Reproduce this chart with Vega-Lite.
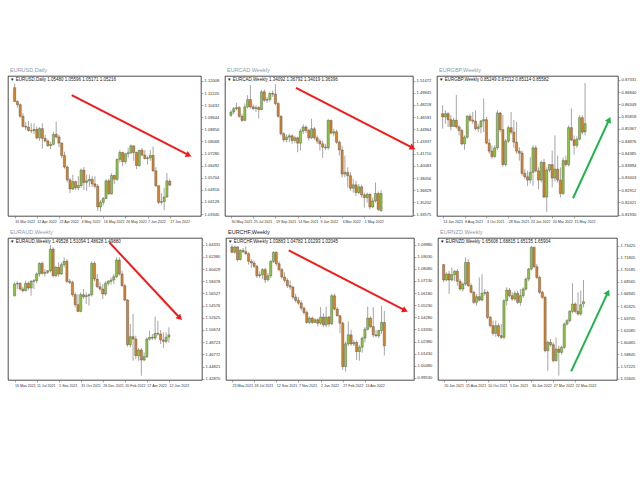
{
"$schema": "https://vega.github.io/schema/vega-lite/v6.json",
"background": "white",
"padding": {"left": 7, "top": 67, "right": 0, "bottom": 0},
"config": {
 "view": {"stroke": "#000000", "strokeWidth": 0.7},
 "axis": {"labelFont": "Liberation Sans", "labelFontSize": 4.1, "labelColor": "#333333", "tickColor": "#555555", "tickWidth": 0.5, "tickSize": 2, "domain": false, "grid": false, "labelPadding": 1, "labelOverlap": false},
 "axisX": {"labelAlign": "left", "labelBound": false, "labelFlush": false, "labelFontSize": 3.6},
 "title": {"anchor": "start", "frame": "group", "font": "Liberation Sans", "fontSize": 5.5, "fontWeight": "normal", "color": "#8c9aab", "subtitleFont": "Liberation Sans", "subtitleFontSize": 4.5, "subtitleColor": "#222222", "subtitlePadding": 4, "offset": -5.5, "dx": 2}
},
"datasets": {
 "arrows": [
  {"p": "EURUSD", "x1": 20.6, "y1": 1.1109, "x2": 62.9, "y2": 1.0717},
  {"p": "EURCAD", "x1": 23.4, "y1": 1.5051, "x2": 65.4, "y2": 1.4249},
  {"p": "EURGBP", "x1": 47.6, "y1": 0.8259, "x2": 60.8, "y2": 0.8574},
  {"p": "EURAUD", "x1": 34.4, "y1": 1.6470, "x2": 60.0, "y2": 1.5258},
  {"p": "EURCHF", "x1": 20.5, "y1": 1.0953, "x2": 62.5, "y2": 1.0482},
  {"p": "EURNZD", "x1": 46.5, "y1": 1.5659, "x2": 59.9, "y2": 1.6716}
 ],
 "eurusd": [
{"i":0,"o":1.1157,"h":1.1185,"l":1.1066,"c":1.1067},{"i":1,"o":1.1067,"h":1.1076,"l":1.1027,"c":1.1046},{"i":2,"o":1.1046,"h":1.1054,"l":1.0960,"c":1.0971},{"i":3,"o":1.0971,"h":1.0990,"l":1.0897,"c":1.0905},{"i":4,"o":1.0905,"h":1.0935,"l":1.0880,"c":1.0900},{"i":5,"o":1.0900,"h":1.0940,"l":1.0870,"c":1.0878},{"i":6,"o":1.0878,"h":1.0925,"l":1.0860,"c":1.0876},{"i":7,"o":1.0876,"h":1.0925,"l":1.0855,"c":1.0885},{"i":8,"o":1.0885,"h":1.0905,"l":1.0820,"c":1.0830},{"i":9,"o":1.0830,"h":1.0900,"l":1.0810,"c":1.0890},{"i":10,"o":1.0890,"h":1.0925,"l":1.0760,"c":1.0827},{"i":11,"o":1.0827,"h":1.0850,"l":1.0800,"c":1.0810},{"i":12,"o":1.0810,"h":1.0820,"l":1.0770,"c":1.0780},{"i":13,"o":1.0780,"h":1.0805,"l":1.0757,"c":1.0788},{"i":14,"o":1.0788,"h":1.0870,"l":1.0780,"c":1.0853},{"i":15,"o":1.0853,"h":1.0936,"l":1.0825,"c":1.0836},{"i":16,"o":1.0836,"h":1.0850,"l":1.0770,"c":1.0796},{"i":17,"o":1.0796,"h":1.0800,"l":1.0697,"c":1.0715},{"i":18,"o":1.0715,"h":1.0740,"l":1.0630,"c":1.0640},{"i":19,"o":1.0640,"h":1.0650,"l":1.0540,"c":1.0556},{"i":20,"o":1.0556,"h":1.0570,"l":1.0470,"c":1.0497},{"i":21,"o":1.0497,"h":1.0590,"l":1.0490,"c":1.0545},{"i":22,"o":1.0545,"h":1.0550,"l":1.0490,"c":1.0505},{"i":23,"o":1.0505,"h":1.0580,"l":1.0490,"c":1.0520},{"i":24,"o":1.0520,"h":1.0630,"l":1.0505,"c":1.0620},{"i":25,"o":1.0620,"h":1.0640,"l":1.0490,"c":1.0540},{"i":26,"o":1.0540,"h":1.0590,"l":1.0485,"c":1.0550},{"i":27,"o":1.0550,"h":1.0590,"l":1.0510,"c":1.0560},{"i":28,"o":1.0560,"h":1.0580,"l":1.0510,"c":1.0530},{"i":29,"o":1.0530,"h":1.0580,"l":1.0500,"c":1.0515},{"i":30,"o":1.0515,"h":1.0530,"l":1.0355,"c":1.0380},{"i":31,"o":1.0380,"h":1.0425,"l":1.0350,"c":1.0410},{"i":32,"o":1.0410,"h":1.0445,"l":1.0390,"c":1.0435},{"i":33,"o":1.0435,"h":1.0560,"l":1.0430,"c":1.0550},{"i":34,"o":1.0550,"h":1.0565,"l":1.0460,"c":1.0465},{"i":35,"o":1.0465,"h":1.0600,"l":1.0460,"c":1.0585},{"i":36,"o":1.0585,"h":1.0590,"l":1.0530,"c":1.0560},{"i":37,"o":1.0560,"h":1.0695,"l":1.0550,"c":1.0690},{"i":38,"o":1.0690,"h":1.0750,"l":1.0670,"c":1.0735},{"i":39,"o":1.0735,"h":1.0740,"l":1.0645,"c":1.0675},{"i":40,"o":1.0675,"h":1.0730,"l":1.0660,"c":1.0727},{"i":41,"o":1.0727,"h":1.0765,"l":1.0700,"c":1.0733},{"i":42,"o":1.0733,"h":1.0787,"l":1.0725,"c":1.0778},{"i":43,"o":1.0778,"h":1.0780,"l":1.0680,"c":1.0735},{"i":44,"o":1.0735,"h":1.0740,"l":1.0627,"c":1.0650},{"i":45,"o":1.0650,"h":1.0750,"l":1.0640,"c":1.0750},{"i":46,"o":1.0750,"h":1.0764,"l":1.0710,"c":1.0718},{"i":47,"o":1.0718,"h":1.0750,"l":1.0690,"c":1.0695},{"i":48,"o":1.0695,"h":1.0710,"l":1.0655,"c":1.0700},{"i":49,"o":1.0700,"h":1.0750,"l":1.0680,"c":1.0716},{"i":50,"o":1.0716,"h":1.0774,"l":1.0610,"c":1.0615},{"i":51,"o":1.0615,"h":1.0640,"l":1.0510,"c":1.0518},{"i":52,"o":1.0518,"h":1.0520,"l":1.0398,"c":1.0410},{"i":53,"o":1.0410,"h":1.0470,"l":1.0395,"c":1.0415},{"i":54,"o":1.0415,"h":1.0505,"l":1.0359,"c":1.0445},{"i":55,"o":1.0445,"h":1.0601,"l":1.0440,"c":1.0550},{"i":56,"o":1.0548,"h":1.0560,"l":1.0517,"c":1.0522}
 ],
 "eurcad": [
{"i":0,"o":1.4684,"h":1.4751,"l":1.4661,"c":1.4728},{"i":1,"o":1.4728,"h":1.4796,"l":1.4697,"c":1.4773},{"i":2,"o":1.4773,"h":1.4849,"l":1.4751,"c":1.4787},{"i":3,"o":1.4787,"h":1.4805,"l":1.4652,"c":1.4670},{"i":4,"o":1.4670,"h":1.4706,"l":1.4594,"c":1.4616},{"i":5,"o":1.4616,"h":1.4840,"l":1.4607,"c":1.4796},{"i":6,"o":1.4796,"h":1.4952,"l":1.4773,"c":1.4894},{"i":7,"o":1.4894,"h":1.5087,"l":1.4773,"c":1.4796},{"i":8,"o":1.4796,"h":1.4831,"l":1.4751,"c":1.4773},{"i":9,"o":1.4773,"h":1.4818,"l":1.4728,"c":1.4787},{"i":10,"o":1.4787,"h":1.4805,"l":1.4639,"c":1.4760},{"i":11,"o":1.4760,"h":1.5020,"l":1.4751,"c":1.4997},{"i":12,"o":1.4997,"h":1.5029,"l":1.4863,"c":1.4885},{"i":13,"o":1.4885,"h":1.4930,"l":1.4849,"c":1.4894},{"i":14,"o":1.4894,"h":1.4997,"l":1.4863,"c":1.4975},{"i":15,"o":1.4975,"h":1.5011,"l":1.4930,"c":1.4966},{"i":16,"o":1.4966,"h":1.5100,"l":1.4818,"c":1.4840},{"i":17,"o":1.4840,"h":1.4863,"l":1.4652,"c":1.4670},{"i":18,"o":1.4670,"h":1.4684,"l":1.4415,"c":1.4437},{"i":19,"o":1.4437,"h":1.4460,"l":1.4325,"c":1.4357},{"i":20,"o":1.4357,"h":1.4428,"l":1.4325,"c":1.4392},{"i":21,"o":1.4392,"h":1.4437,"l":1.4325,"c":1.4410},{"i":22,"o":1.4410,"h":1.4428,"l":1.4303,"c":1.4348},{"i":23,"o":1.4348,"h":1.4410,"l":1.4312,"c":1.4383},{"i":24,"o":1.4383,"h":1.4401,"l":1.4191,"c":1.4312},{"i":25,"o":1.4312,"h":1.4504,"l":1.4213,"c":1.4473},{"i":26,"o":1.4473,"h":1.4563,"l":1.4437,"c":1.4527},{"i":27,"o":1.4527,"h":1.4549,"l":1.4446,"c":1.4482},{"i":28,"o":1.4482,"h":1.4504,"l":1.4348,"c":1.4383},{"i":29,"o":1.4383,"h":1.4639,"l":1.4366,"c":1.4504},{"i":30,"o":1.4504,"h":1.4527,"l":1.4357,"c":1.4383},{"i":31,"o":1.4383,"h":1.4415,"l":1.4303,"c":1.4339},{"i":32,"o":1.4339,"h":1.4370,"l":1.4213,"c":1.4303},{"i":33,"o":1.4303,"h":1.4348,"l":1.4115,"c":1.4258},{"i":34,"o":1.4258,"h":1.4303,"l":1.4222,"c":1.4249},{"i":35,"o":1.4249,"h":1.4634,"l":1.4222,"c":1.4616},{"i":36,"o":1.4616,"h":1.4625,"l":1.4428,"c":1.4446},{"i":37,"o":1.4446,"h":1.4504,"l":1.4401,"c":1.4464},{"i":38,"o":1.4464,"h":1.4491,"l":1.4303,"c":1.4325},{"i":39,"o":1.4325,"h":1.4348,"l":1.4146,"c":1.4222},{"i":40,"o":1.4222,"h":1.4280,"l":1.3855,"c":1.3899},{"i":41,"o":1.3899,"h":1.4146,"l":1.3855,"c":1.3922},{"i":42,"o":1.3922,"h":1.3989,"l":1.3720,"c":1.3877},{"i":43,"o":1.3877,"h":1.3922,"l":1.3676,"c":1.3711},{"i":44,"o":1.3711,"h":1.3832,"l":1.3653,"c":1.3756},{"i":45,"o":1.3756,"h":1.3810,"l":1.3608,"c":1.3653},{"i":46,"o":1.3653,"h":1.3765,"l":1.3631,"c":1.3729},{"i":47,"o":1.3729,"h":1.3756,"l":1.3586,"c":1.3622},{"i":48,"o":1.3622,"h":1.3653,"l":1.3452,"c":1.3586},{"i":49,"o":1.3586,"h":1.3653,"l":1.3519,"c":1.3631},{"i":50,"o":1.3631,"h":1.3640,"l":1.3429,"c":1.3461},{"i":51,"o":1.3461,"h":1.3586,"l":1.3443,"c":1.3541},{"i":52,"o":1.3541,"h":1.3788,"l":1.3519,"c":1.3640},{"i":53,"o":1.3640,"h":1.3667,"l":1.3407,"c":1.3429},{"i":54,"o":1.3409,"h":1.3679,"l":1.3402,"c":1.3640}
 ],
 "eurgbp": [
{"i":0,"o":0.8598,"h":0.8632,"l":0.8538,"c":0.8585},{"i":1,"o":0.8585,"h":0.8612,"l":0.8558,"c":0.8598},{"i":2,"o":0.8598,"h":0.8605,"l":0.8545,"c":0.8574},{"i":3,"o":0.8574,"h":0.8592,"l":0.8531,"c":0.8547},{"i":4,"o":0.8547,"h":0.8582,"l":0.8545,"c":0.8572},{"i":5,"o":0.8572,"h":0.8673,"l":0.8538,"c":0.8545},{"i":6,"o":0.8545,"h":0.8551,"l":0.8511,"c":0.8531},{"i":7,"o":0.8531,"h":0.8538,"l":0.8471,"c":0.8477},{"i":8,"o":0.8477,"h":0.8511,"l":0.8453,"c":0.8504},{"i":9,"o":0.8504,"h":0.8592,"l":0.8497,"c":0.8588},{"i":10,"o":0.8588,"h":0.8598,"l":0.8565,"c":0.8572},{"i":11,"o":0.8572,"h":0.8605,"l":0.8558,"c":0.8568},{"i":12,"o":0.8568,"h":0.8612,"l":0.8531,"c":0.8538},{"i":13,"o":0.8538,"h":0.8558,"l":0.8524,"c":0.8545},{"i":14,"o":0.8545,"h":0.8572,"l":0.8520,"c":0.8569},{"i":15,"o":0.8569,"h":0.8659,"l":0.8524,"c":0.8574},{"i":16,"o":0.8574,"h":0.8585,"l":0.8475,"c":0.8480},{"i":17,"o":0.8480,"h":0.8497,"l":0.8437,"c":0.8448},{"i":18,"o":0.8448,"h":0.8471,"l":0.8417,"c":0.8426},{"i":19,"o":0.8426,"h":0.8471,"l":0.8421,"c":0.8461},{"i":20,"o":0.8461,"h":0.8612,"l":0.8453,"c":0.8601},{"i":21,"o":0.8601,"h":0.8605,"l":0.8524,"c":0.8534},{"i":22,"o":0.8534,"h":0.8592,"l":0.8386,"c":0.8394},{"i":23,"o":0.8394,"h":0.8497,"l":0.8386,"c":0.8488},{"i":24,"o":0.8488,"h":0.8551,"l":0.8480,"c":0.8542},{"i":25,"o":0.8542,"h":0.8605,"l":0.8515,"c":0.8524},{"i":26,"o":0.8524,"h":0.8572,"l":0.8461,"c":0.8484},{"i":27,"o":0.8484,"h":0.8565,"l":0.8437,"c":0.8448},{"i":28,"o":0.8448,"h":0.8464,"l":0.8410,"c":0.8440},{"i":29,"o":0.8440,"h":0.8450,"l":0.8349,"c":0.8359},{"i":30,"o":0.8359,"h":0.8376,"l":0.8336,"c":0.8345},{"i":31,"o":0.8345,"h":0.8369,"l":0.8309,"c":0.8332},{"i":32,"o":0.8332,"h":0.8423,"l":0.8318,"c":0.8363},{"i":33,"o":0.8363,"h":0.8471,"l":0.8309,"c":0.8461},{"i":34,"o":0.8461,"h":0.8471,"l":0.8363,"c":0.8369},{"i":35,"o":0.8369,"h":0.8383,"l":0.8295,"c":0.8332},{"i":36,"o":0.8332,"h":0.8410,"l":0.8322,"c":0.8403},{"i":37,"o":0.8403,"h":0.8417,"l":0.8259,"c":0.8264},{"i":38,"o":0.8264,"h":0.8383,"l":0.8205,"c":0.8372},{"i":39,"o":0.8372,"h":0.8396,"l":0.8363,"c":0.8394},{"i":40,"o":0.8394,"h":0.8450,"l":0.8302,"c":0.8340},{"i":41,"o":0.8340,"h":0.8511,"l":0.8326,"c":0.8376},{"i":42,"o":0.8376,"h":0.8430,"l":0.8322,"c":0.8332},{"i":43,"o":0.8332,"h":0.8383,"l":0.8262,"c":0.8278},{"i":44,"o":0.8278,"h":0.8423,"l":0.8272,"c":0.8410},{"i":45,"o":0.8410,"h":0.8430,"l":0.8386,"c":0.8394},{"i":46,"o":0.8394,"h":0.8551,"l":0.8386,"c":0.8542},{"i":47,"o":0.8542,"h":0.8619,"l":0.8488,"c":0.8493},{"i":48,"o":0.8493,"h":0.8511,"l":0.8434,"c":0.8471},{"i":49,"o":0.8471,"h":0.8507,"l":0.8461,"c":0.8496},{"i":50,"o":0.8496,"h":0.8592,"l":0.8491,"c":0.8582},{"i":51,"o":0.8582,"h":0.8592,"l":0.8515,"c":0.8524},{"i":52,"o":0.8525,"h":0.8721,"l":0.8511,"c":0.8558}
 ],
 "euraud": [
{"i":0,"o":1.5616,"h":1.5830,"l":1.5600,"c":1.5803},{"i":1,"o":1.5803,"h":1.5846,"l":1.5723,"c":1.5814},{"i":2,"o":1.5814,"h":1.5830,"l":1.5696,"c":1.5723},{"i":3,"o":1.5723,"h":1.5760,"l":1.5670,"c":1.5696},{"i":4,"o":1.5696,"h":1.5856,"l":1.5686,"c":1.5814},{"i":5,"o":1.5814,"h":1.5846,"l":1.5707,"c":1.5739},{"i":6,"o":1.5739,"h":1.5867,"l":1.5616,"c":1.5846},{"i":7,"o":1.5846,"h":1.5883,"l":1.5723,"c":1.5856},{"i":8,"o":1.5856,"h":1.5990,"l":1.5814,"c":1.5963},{"i":9,"o":1.5963,"h":1.6150,"l":1.5920,"c":1.6134},{"i":10,"o":1.6134,"h":1.6166,"l":1.5952,"c":1.5974},{"i":11,"o":1.5974,"h":1.6043,"l":1.5920,"c":1.5990},{"i":12,"o":1.5990,"h":1.6027,"l":1.5963,"c":1.6016},{"i":13,"o":1.6016,"h":1.6433,"l":1.5990,"c":1.6363},{"i":14,"o":1.6363,"h":1.6390,"l":1.5910,"c":1.5936},{"i":15,"o":1.5936,"h":1.6097,"l":1.5910,"c":1.6070},{"i":16,"o":1.6070,"h":1.6150,"l":1.5920,"c":1.5963},{"i":17,"o":1.5963,"h":1.6150,"l":1.5952,"c":1.6113},{"i":18,"o":1.6113,"h":1.6230,"l":1.6070,"c":1.6166},{"i":19,"o":1.6166,"h":1.6203,"l":1.5814,"c":1.5846},{"i":20,"o":1.5846,"h":1.5883,"l":1.5803,"c":1.5830},{"i":21,"o":1.5830,"h":1.5856,"l":1.5600,"c":1.5632},{"i":22,"o":1.5632,"h":1.5670,"l":1.5429,"c":1.5472},{"i":23,"o":1.5472,"h":1.5643,"l":1.5349,"c":1.5365},{"i":24,"o":1.5365,"h":1.5670,"l":1.5349,"c":1.5632},{"i":25,"o":1.5632,"h":1.5723,"l":1.5563,"c":1.5600},{"i":26,"o":1.5600,"h":1.5670,"l":1.5483,"c":1.5616},{"i":27,"o":1.5616,"h":1.5653,"l":1.5456,"c":1.5632},{"i":28,"o":1.5632,"h":1.6166,"l":1.5600,"c":1.6134},{"i":29,"o":1.6134,"h":1.6166,"l":1.5846,"c":1.5883},{"i":30,"o":1.5883,"h":1.5963,"l":1.5739,"c":1.5760},{"i":31,"o":1.5760,"h":1.5830,"l":1.5696,"c":1.5723},{"i":32,"o":1.5723,"h":1.5803,"l":1.5563,"c":1.5643},{"i":33,"o":1.5643,"h":1.5846,"l":1.5616,"c":1.5814},{"i":34,"o":1.5814,"h":1.5867,"l":1.5776,"c":1.5846},{"i":35,"o":1.5846,"h":1.5910,"l":1.5792,"c":1.5867},{"i":36,"o":1.5867,"h":1.5963,"l":1.5803,"c":1.5920},{"i":37,"o":1.5920,"h":1.6230,"l":1.5899,"c":1.6187},{"i":38,"o":1.6187,"h":1.6230,"l":1.5936,"c":1.5963},{"i":39,"o":1.5963,"h":1.6016,"l":1.5760,"c":1.5776},{"i":40,"o":1.5776,"h":1.5803,"l":1.5525,"c":1.5547},{"i":41,"o":1.5547,"h":1.5563,"l":1.4799,"c":1.4831},{"i":42,"o":1.4831,"h":1.5162,"l":1.4789,"c":1.4960},{"i":43,"o":1.4960,"h":1.5323,"l":1.4575,"c":1.4922},{"i":44,"o":1.4922,"h":1.4976,"l":1.4602,"c":1.4655},{"i":45,"o":1.4655,"h":1.4778,"l":1.4575,"c":1.4746},{"i":46,"o":1.4746,"h":1.4778,"l":1.4335,"c":1.4586},{"i":47,"o":1.4586,"h":1.4709,"l":1.4565,"c":1.4639},{"i":48,"o":1.4639,"h":1.4949,"l":1.4618,"c":1.4922},{"i":49,"o":1.4922,"h":1.5056,"l":1.4896,"c":1.4949},{"i":50,"o":1.4949,"h":1.5002,"l":1.4906,"c":1.4938},{"i":51,"o":1.4938,"h":1.5280,"l":1.4906,"c":1.5013},{"i":52,"o":1.5013,"h":1.5216,"l":1.4976,"c":1.5002},{"i":53,"o":1.5002,"h":1.5066,"l":1.4842,"c":1.4906},{"i":54,"o":1.4906,"h":1.5029,"l":1.4778,"c":1.4885},{"i":55,"o":1.4885,"h":1.5029,"l":1.4853,"c":1.4949},{"i":56,"o":1.4953,"h":1.5109,"l":1.4863,"c":1.4988}
 ],
 "eurchf": [
{"i":0,"o":1.0980,"h":1.0998,"l":1.0932,"c":1.0938},{"i":1,"o":1.0938,"h":1.0990,"l":1.0927,"c":1.0980},{"i":2,"o":1.0980,"h":1.0985,"l":1.0867,"c":1.0880},{"i":3,"o":1.0880,"h":1.0964,"l":1.0875,"c":1.0953},{"i":4,"o":1.0953,"h":1.0972,"l":1.0932,"c":1.0943},{"i":5,"o":1.0943,"h":1.0985,"l":1.0919,"c":1.0927},{"i":6,"o":1.0927,"h":1.0938,"l":1.0841,"c":1.0867},{"i":7,"o":1.0867,"h":1.0885,"l":1.0815,"c":1.0854},{"i":8,"o":1.0854,"h":1.0875,"l":1.0815,"c":1.0828},{"i":9,"o":1.0828,"h":1.0841,"l":1.0736,"c":1.0754},{"i":10,"o":1.0754,"h":1.0788,"l":1.0736,"c":1.0762},{"i":11,"o":1.0762,"h":1.0815,"l":1.0728,"c":1.0802},{"i":12,"o":1.0802,"h":1.0815,"l":1.0697,"c":1.0723},{"i":13,"o":1.0723,"h":1.0775,"l":1.0710,"c":1.0754},{"i":14,"o":1.0754,"h":1.0875,"l":1.0736,"c":1.0867},{"i":15,"o":1.0867,"h":1.0946,"l":1.0854,"c":1.0938},{"i":16,"o":1.0938,"h":1.0946,"l":1.0833,"c":1.0849},{"i":17,"o":1.0849,"h":1.0867,"l":1.0788,"c":1.0802},{"i":18,"o":1.0802,"h":1.0815,"l":1.0728,"c":1.0744},{"i":19,"o":1.0744,"h":1.0781,"l":1.0702,"c":1.0718},{"i":20,"o":1.0718,"h":1.0736,"l":1.0657,"c":1.0676},{"i":21,"o":1.0676,"h":1.0718,"l":1.0644,"c":1.0665},{"i":22,"o":1.0665,"h":1.0676,"l":1.0571,"c":1.0587},{"i":23,"o":1.0587,"h":1.0613,"l":1.0545,"c":1.0561},{"i":24,"o":1.0561,"h":1.0587,"l":1.0527,"c":1.0540},{"i":25,"o":1.0540,"h":1.0561,"l":1.0482,"c":1.0500},{"i":26,"o":1.0500,"h":1.0513,"l":1.0448,"c":1.0466},{"i":27,"o":1.0466,"h":1.0482,"l":1.0377,"c":1.0388},{"i":28,"o":1.0388,"h":1.0435,"l":1.0377,"c":1.0422},{"i":29,"o":1.0422,"h":1.0435,"l":1.0377,"c":1.0388},{"i":30,"o":1.0388,"h":1.0422,"l":1.0382,"c":1.0409},{"i":31,"o":1.0409,"h":1.0422,"l":1.0356,"c":1.0382},{"i":32,"o":1.0382,"h":1.0508,"l":1.0369,"c":1.0430},{"i":33,"o":1.0430,"h":1.0461,"l":1.0351,"c":1.0369},{"i":34,"o":1.0369,"h":1.0513,"l":1.0351,"c":1.0430},{"i":35,"o":1.0430,"h":1.0440,"l":1.0356,"c":1.0377},{"i":36,"o":1.0377,"h":1.0613,"l":1.0369,"c":1.0597},{"i":37,"o":1.0597,"h":1.0613,"l":1.0482,"c":1.0493},{"i":38,"o":1.0493,"h":1.0508,"l":1.0435,"c":1.0440},{"i":39,"o":1.0440,"h":1.0448,"l":1.0304,"c":1.0382},{"i":40,"o":1.0382,"h":1.0396,"l":1.0016,"c":1.0042},{"i":41,"o":1.0042,"h":1.0238,"l":1.0003,"c":1.0220},{"i":42,"o":1.0220,"h":1.0396,"l":1.0204,"c":1.0291},{"i":43,"o":1.0291,"h":1.0330,"l":1.0204,"c":1.0220},{"i":44,"o":1.0220,"h":1.0252,"l":1.0204,"c":1.0231},{"i":45,"o":1.0231,"h":1.0246,"l":1.0094,"c":1.0160},{"i":46,"o":1.0160,"h":1.0212,"l":1.0089,"c":1.0194},{"i":47,"o":1.0194,"h":1.0278,"l":1.0152,"c":1.0265},{"i":48,"o":1.0265,"h":1.0351,"l":1.0231,"c":1.0335},{"i":49,"o":1.0335,"h":1.0513,"l":1.0325,"c":1.0422},{"i":50,"o":1.0422,"h":1.0435,"l":1.0343,"c":1.0356},{"i":51,"o":1.0356,"h":1.0508,"l":1.0273,"c":1.0291},{"i":52,"o":1.0291,"h":1.0330,"l":1.0273,"c":1.0283},{"i":53,"o":1.0283,"h":1.0330,"l":1.0265,"c":1.0325},{"i":54,"o":1.0325,"h":1.0519,"l":1.0299,"c":1.0388},{"i":55,"o":1.0388,"h":1.0478,"l":1.0129,"c":1.0205}
 ],
 "eurnzd": [
{"i":0,"o":1.7086,"h":1.7095,"l":1.6849,"c":1.6881},{"i":1,"o":1.6881,"h":1.6983,"l":1.6863,"c":1.6961},{"i":2,"o":1.6961,"h":1.7005,"l":1.6693,"c":1.6881},{"i":3,"o":1.6881,"h":1.7050,"l":1.6863,"c":1.6952},{"i":4,"o":1.6952,"h":1.7014,"l":1.6863,"c":1.6997},{"i":5,"o":1.6997,"h":1.7028,"l":1.6805,"c":1.6863},{"i":6,"o":1.6863,"h":1.6894,"l":1.6738,"c":1.6760},{"i":7,"o":1.6760,"h":1.6849,"l":1.6729,"c":1.6827},{"i":8,"o":1.6827,"h":1.7184,"l":1.6805,"c":1.7117},{"i":9,"o":1.7117,"h":1.7162,"l":1.6791,"c":1.6805},{"i":10,"o":1.6805,"h":1.6836,"l":1.6702,"c":1.6716},{"i":11,"o":1.6716,"h":1.6738,"l":1.6560,"c":1.6582},{"i":12,"o":1.6582,"h":1.6693,"l":1.6537,"c":1.6658},{"i":13,"o":1.6658,"h":1.6916,"l":1.6595,"c":1.6613},{"i":14,"o":1.6613,"h":1.6961,"l":1.6595,"c":1.6702},{"i":15,"o":1.6702,"h":1.6760,"l":1.6671,"c":1.6716},{"i":16,"o":1.6716,"h":1.6738,"l":1.6359,"c":1.6381},{"i":17,"o":1.6381,"h":1.6403,"l":1.6247,"c":1.6270},{"i":18,"o":1.6270,"h":1.6337,"l":1.6136,"c":1.6167},{"i":19,"o":1.6167,"h":1.6337,"l":1.6122,"c":1.6270},{"i":20,"o":1.6270,"h":1.6301,"l":1.6113,"c":1.6136},{"i":21,"o":1.6136,"h":1.6292,"l":1.6091,"c":1.6113},{"i":22,"o":1.6113,"h":1.6626,"l":1.6091,"c":1.6604},{"i":23,"o":1.6604,"h":1.6783,"l":1.6537,"c":1.6747},{"i":24,"o":1.6747,"h":1.6774,"l":1.6649,"c":1.6671},{"i":25,"o":1.6671,"h":1.6716,"l":1.6604,"c":1.6626},{"i":26,"o":1.6626,"h":1.6738,"l":1.6604,"c":1.6702},{"i":27,"o":1.6702,"h":1.6738,"l":1.6560,"c":1.6582},{"i":28,"o":1.6582,"h":1.6760,"l":1.6537,"c":1.6671},{"i":29,"o":1.6671,"h":1.6783,"l":1.6640,"c":1.6760},{"i":30,"o":1.6760,"h":1.6916,"l":1.6738,"c":1.6894},{"i":31,"o":1.6894,"h":1.7041,"l":1.6863,"c":1.7028},{"i":32,"o":1.7028,"h":1.7340,"l":1.7005,"c":1.7318},{"i":33,"o":1.7318,"h":1.7327,"l":1.7041,"c":1.7059},{"i":34,"o":1.7059,"h":1.7095,"l":1.6894,"c":1.6916},{"i":35,"o":1.6916,"h":1.6939,"l":1.6693,"c":1.6716},{"i":36,"o":1.6716,"h":1.6738,"l":1.6626,"c":1.6649},{"i":37,"o":1.6649,"h":1.6671,"l":1.5913,"c":1.5935},{"i":38,"o":1.5935,"h":1.6069,"l":1.5668,"c":1.6047},{"i":39,"o":1.6047,"h":1.6091,"l":1.5989,"c":1.6015},{"i":40,"o":1.6015,"h":1.6047,"l":1.5779,"c":1.5801},{"i":41,"o":1.5801,"h":1.6113,"l":1.5792,"c":1.5957},{"i":42,"o":1.5957,"h":1.6002,"l":1.5601,"c":1.5913},{"i":43,"o":1.5913,"h":1.6002,"l":1.5882,"c":1.5980},{"i":44,"o":1.5980,"h":1.6314,"l":1.5957,"c":1.6292},{"i":45,"o":1.6292,"h":1.6359,"l":1.6270,"c":1.6337},{"i":46,"o":1.6337,"h":1.6479,"l":1.6314,"c":1.6461},{"i":47,"o":1.6461,"h":1.6836,"l":1.6435,"c":1.6560},{"i":48,"o":1.6560,"h":1.6582,"l":1.6435,"c":1.6461},{"i":49,"o":1.6461,"h":1.6716,"l":1.6403,"c":1.6426},{"i":50,"o":1.6426,"h":1.6738,"l":1.6403,"c":1.6551},{"i":51,"o":1.6561,"h":1.6882,"l":1.6514,"c":1.6590}
 ]
},
"spacing": 6,
"vconcat": [
 {"spacing": 24, "bounds": "flush", "hconcat": [
  {"width": 193, "height": 140,
   "title": {"text": "\u00a0\u00a0EURUSD,Daily", "subtitle": "▼ EURUSD,Daily  1.05480 1.05596 1.05171 1.05216"},
   "layer": [
    {"data": {"name": "eurusd"}, "mark": {"type": "rule", "color": "#8f8f8f", "strokeWidth": 0.8},
     "encoding": {
      "x": {"field": "i", "type": "quantitative", "title": null, "scale": {"domain": [-0.6, 65.5], "nice": false, "zero": false},
            "axis": {"tickCount": 40, "labelOverlap": false, "values": [0, 8, 16, 24, 32, 40, 48, 56], "labelExpr": "['31 Mar 2022','12 Apr 2022','22 Apr 2022','4 May 2022','16 May 2022','26 May 2022','7 Jun 2022','17 Jun 2022'][datum.value/8]"}},
      "y": {"field": "l", "type": "quantitative", "title": null, "scale": {"domain": [1.0321, 1.1233], "nice": false, "zero": false},
            "axis": {"tickCount": 40, "labelOverlap": false, "orient": "right", "format": ".5f", "values": [1.0334, 1.04128, 1.04916, 1.05704, 1.06492, 1.0728, 1.08068, 1.08856, 1.09644, 1.10432, 1.1122, 1.12008]}},
      "y2": {"field": "h"}}},
    {"data": {"name": "eurusd"}, "mark": {"type": "bar", "size": 2.2, "stroke": "#4a4a4a", "strokeWidth": 0.4},
     "encoding": {"x": {"field": "i", "type": "quantitative", "title": null}, "y": {"field": "o", "type": "quantitative", "title": null}, "y2": {"field": "c"},
      "color": {"condition": {"test": "datum.c >= datum.o", "value": "#8dc63f"}, "value": "#d8832c"}}},
    {"data": {"name": "arrows"}, "transform": [{"filter": "datum.p == 'EURUSD'"}], "mark": {"type": "rule", "color": "#f01c1c", "strokeWidth": 2},
     "encoding": {"x": {"field": "x1", "type": "quantitative", "title": null}, "y": {"field": "y1", "type": "quantitative", "title": null}, "x2": {"field": "x2"}, "y2": {"field": "y2"}}},
    {"data": {"name": "arrows"}, "transform": [{"filter": "datum.p == 'EURUSD'"}], "mark": {"type": "point", "shape": "triangle-right", "filled": true, "color": "#f01c1c", "opacity": 1, "size": 45, "angle": 26},
     "encoding": {"x": {"field": "x2", "type": "quantitative", "title": null}, "y": {"field": "y2", "type": "quantitative", "title": null}}}
   ]},
  {"width": 188, "height": 140,
   "title": {"text": "\u00a0\u00a0EURCAD,Weekly", "subtitle": "▼ EURCAD,Weekly  1.34092 1.36792 1.34019 1.36396"},
   "layer": [
    {"data": {"name": "eurcad"}, "mark": {"type": "rule", "color": "#8f8f8f", "strokeWidth": 0.8},
     "encoding": {
      "x": {"field": "i", "type": "quantitative", "title": null, "scale": {"domain": [-0.34, 63.7], "nice": false, "zero": false},
            "axis": {"tickCount": 40, "labelOverlap": false, "values": [0, 8, 16, 24, 32, 40, 48], "labelExpr": "['30 May 2021','25 Jul 2021','19 Sep 2021','14 Nov 2021','9 Jan 2022','6 Mar 2022','1 May 2022'][datum.value/8]"}},
      "y": {"field": "l", "type": "quantitative", "title": null, "scale": {"domain": [1.334, 1.5208], "nice": false, "zero": false},
            "axis": {"tickCount": 40, "labelOverlap": false, "orient": "right", "format": ".5f", "values": [1.33575, 1.35202, 1.36829, 1.38456, 1.40083, 1.4171, 1.43337, 1.44964, 1.46591, 1.48218, 1.49845, 1.51472]}},
      "y2": {"field": "h"}}},
    {"data": {"name": "eurcad"}, "mark": {"type": "bar", "size": 2.2, "stroke": "#4a4a4a", "strokeWidth": 0.4},
     "encoding": {"x": {"field": "i", "type": "quantitative", "title": null}, "y": {"field": "o", "type": "quantitative", "title": null}, "y2": {"field": "c"},
      "color": {"condition": {"test": "datum.c >= datum.o", "value": "#8dc63f"}, "value": "#d8832c"}}},
    {"data": {"name": "arrows"}, "transform": [{"filter": "datum.p == 'EURCAD'"}], "mark": {"type": "rule", "color": "#f01c1c", "strokeWidth": 2},
     "encoding": {"x": {"field": "x1", "type": "quantitative", "title": null}, "y": {"field": "y1", "type": "quantitative", "title": null}, "x2": {"field": "x2"}, "y2": {"field": "y2"}}},
    {"data": {"name": "arrows"}, "transform": [{"filter": "datum.p == 'EURCAD'"}], "mark": {"type": "point", "shape": "triangle-right", "filled": true, "color": "#f01c1c", "opacity": 1, "size": 45, "angle": 26},
     "encoding": {"x": {"field": "x2", "type": "quantitative", "title": null}, "y": {"field": "y2", "type": "quantitative", "title": null}}}
   ]},
  {"width": 181, "height": 140,
   "title": {"text": "\u00a0\u00a0EURGBP,Weekly", "subtitle": "▼ EURGBP,Weekly  0.85249 0.87212 0.85114 0.85582"},
   "layer": [
    {"data": {"name": "eurgbp"}, "mark": {"type": "rule", "color": "#8f8f8f", "strokeWidth": 0.8},
     "encoding": {
      "x": {"field": "i", "type": "quantitative", "title": null, "scale": {"domain": [-0.23, 62.2], "nice": false, "zero": false},
            "axis": {"tickCount": 40, "labelOverlap": false, "values": [0, 8, 16, 24, 32, 40, 48], "labelExpr": "['13 Jun 2021','8 Aug 2021','3 Oct 2021','28 Nov 2021','23 Jan 2022','20 Mar 2022','15 May 2022'][datum.value/8]"}},
      "y": {"field": "l", "type": "quantitative", "title": null, "scale": {"domain": [0.8188, 0.8749], "nice": false, "zero": false},
            "axis": {"tickCount": 40, "labelOverlap": false, "orient": "right", "format": ".5f", "values": [0.8193, 0.82421, 0.82912, 0.83403, 0.83894, 0.84385, 0.84876, 0.85367, 0.85858, 0.86349, 0.8684, 0.87331]}},
      "y2": {"field": "h"}}},
    {"data": {"name": "eurgbp"}, "mark": {"type": "bar", "size": 2.2, "stroke": "#4a4a4a", "strokeWidth": 0.4},
     "encoding": {"x": {"field": "i", "type": "quantitative", "title": null}, "y": {"field": "o", "type": "quantitative", "title": null}, "y2": {"field": "c"},
      "color": {"condition": {"test": "datum.c >= datum.o", "value": "#8dc63f"}, "value": "#d8832c"}}},
    {"data": {"name": "arrows"}, "transform": [{"filter": "datum.p == 'EURGBP'"}], "mark": {"type": "rule", "color": "#1fb34a", "strokeWidth": 2},
     "encoding": {"x": {"field": "x1", "type": "quantitative", "title": null}, "y": {"field": "y1", "type": "quantitative", "title": null}, "x2": {"field": "x2"}, "y2": {"field": "y2"}}},
    {"data": {"name": "arrows"}, "transform": [{"filter": "datum.p == 'EURGBP'"}], "mark": {"type": "point", "shape": "triangle-right", "filled": true, "color": "#1fb34a", "opacity": 1, "size": 45, "angle": -64},
     "encoding": {"x": {"field": "x2", "type": "quantitative", "title": null}, "y": {"field": "y2", "type": "quantitative", "title": null}}}
   ]}
 ]},
 {"spacing": 24, "bounds": "flush", "hconcat": [
  {"width": 194, "height": 142,
   "title": {"text": "\u00a0\u00a0EURAUD,Weekly", "subtitle": "▼ EURAUD,Weekly  1.49528 1.51094 1.48628 1.49880"},
   "layer": [
    {"data": {"name": "euraud"}, "mark": {"type": "rule", "color": "#8f8f8f", "strokeWidth": 0.8},
     "encoding": {
      "x": {"field": "i", "type": "quantitative", "title": null, "scale": {"domain": [-0.57, 66.2], "nice": false, "zero": false},
            "axis": {"tickCount": 40, "labelOverlap": false, "values": [0, 8, 16, 24, 32, 40, 48, 56], "labelExpr": "['16 May 2021','11 Jul 2021','5 Sep 2021','31 Oct 2021','26 Dec 2021','20 Feb 2022','17 Apr 2022','12 Jun 2022'][datum.value/8]"}},
      "y": {"field": "l", "type": "quantitative", "title": null, "scale": {"domain": [1.4266, 1.654], "nice": false, "zero": false},
            "axis": {"tickCount": 40, "labelOverlap": false, "orient": "right", "format": ".5f", "values": [1.4287, 1.44821, 1.46772, 1.48723, 1.50674, 1.52625, 1.54576, 1.56527, 1.58478, 1.60429, 1.6238, 1.64331]}},
      "y2": {"field": "h"}}},
    {"data": {"name": "euraud"}, "mark": {"type": "bar", "size": 2.2, "stroke": "#4a4a4a", "strokeWidth": 0.4},
     "encoding": {"x": {"field": "i", "type": "quantitative", "title": null}, "y": {"field": "o", "type": "quantitative", "title": null}, "y2": {"field": "c"},
      "color": {"condition": {"test": "datum.c >= datum.o", "value": "#8dc63f"}, "value": "#d8832c"}}},
    {"data": {"name": "arrows"}, "transform": [{"filter": "datum.p == 'EURAUD'"}], "mark": {"type": "rule", "color": "#f01c1c", "strokeWidth": 2},
     "encoding": {"x": {"field": "x1", "type": "quantitative", "title": null}, "y": {"field": "y1", "type": "quantitative", "title": null}, "x2": {"field": "x2"}, "y2": {"field": "y2"}}},
    {"data": {"name": "arrows"}, "transform": [{"filter": "datum.p == 'EURAUD'"}], "mark": {"type": "point", "shape": "triangle-right", "filled": true, "color": "#f01c1c", "opacity": 1, "size": 45, "angle": 45},
     "encoding": {"x": {"field": "x2", "type": "quantitative", "title": null}, "y": {"field": "y2", "type": "quantitative", "title": null}}}
   ]},
  {"width": 188, "height": 142,
   "title": {"text": "\u00a0\u00a0EURCHF,Weekly", "subtitle": "▼ EURCHF,Weekly  1.03883 1.04782 1.01293 1.02045", "color": "#222222"},
   "layer": [
    {"data": {"name": "eurchf"}, "mark": {"type": "rule", "color": "#8f8f8f", "strokeWidth": 0.8},
     "encoding": {
      "x": {"field": "i", "type": "quantitative", "title": null, "scale": {"domain": [-0.34, 63.9], "nice": false, "zero": false},
            "axis": {"tickCount": 40, "labelOverlap": false, "values": [0, 8, 16, 24, 32, 40, 48], "labelExpr": "['23 May 2021','18 Jul 2021','12 Sep 2021','7 Nov 2021','2 Jan 2022','27 Feb 2022','24 Apr 2022'][datum.value/8]"}},
      "y": {"field": "l", "type": "quantitative", "title": null, "scale": {"domain": [0.9937, 1.105], "nice": false, "zero": false},
            "axis": {"tickCount": 40, "labelOverlap": false, "orient": "right", "format": ".5f", "values": [0.9953, 1.0048, 1.0143, 1.0238, 1.0333, 1.0428, 1.0523, 1.0618, 1.0713, 1.0808, 1.0903, 1.0998]}},
      "y2": {"field": "h"}}},
    {"data": {"name": "eurchf"}, "mark": {"type": "bar", "size": 2.2, "stroke": "#4a4a4a", "strokeWidth": 0.4},
     "encoding": {"x": {"field": "i", "type": "quantitative", "title": null}, "y": {"field": "o", "type": "quantitative", "title": null}, "y2": {"field": "c"},
      "color": {"condition": {"test": "datum.c >= datum.o", "value": "#8dc63f"}, "value": "#d8832c"}}},
    {"data": {"name": "arrows"}, "transform": [{"filter": "datum.p == 'EURCHF'"}], "mark": {"type": "rule", "color": "#f01c1c", "strokeWidth": 2},
     "encoding": {"x": {"field": "x1", "type": "quantitative", "title": null}, "y": {"field": "y1", "type": "quantitative", "title": null}, "x2": {"field": "x2"}, "y2": {"field": "y2"}}},
    {"data": {"name": "arrows"}, "transform": [{"filter": "datum.p == 'EURCHF'"}], "mark": {"type": "point", "shape": "triangle-right", "filled": true, "color": "#f01c1c", "opacity": 1, "size": 45, "angle": 26},
     "encoding": {"x": {"field": "x2", "type": "quantitative", "title": null}, "y": {"field": "y2", "type": "quantitative", "title": null}}}
   ]},
  {"width": 179, "height": 142,
   "title": {"text": "\u00a0\u00a0EURNZD,Weekly", "subtitle": "▼ EURNZD,Weekly  1.65608 1.68815 1.65135 1.65904"},
   "layer": [
    {"data": {"name": "eurnzd"}, "mark": {"type": "rule", "color": "#8f8f8f", "strokeWidth": 0.8},
     "encoding": {
      "x": {"field": "i", "type": "quantitative", "title": null, "scale": {"domain": [-0.23, 61.4], "nice": false, "zero": false},
            "axis": {"tickCount": 40, "labelOverlap": false, "values": [0, 8, 16, 24, 32, 40, 48], "labelExpr": "['20 Jun 2021','15 Aug 2021','10 Oct 2021','5 Dec 2021','30 Jan 2022','27 Mar 2022','22 May 2022'][datum.value/8]"}},
      "y": {"field": "l", "type": "quantitative", "title": null, "scale": {"domain": [1.5543, 1.7443], "nice": false, "zero": false},
            "axis": {"tickCount": 40, "labelOverlap": false, "orient": "right", "format": ".5f", "values": [1.55605, 1.57225, 1.58845, 1.60465, 1.62085, 1.63705, 1.65325, 1.66945, 1.68565, 1.70185, 1.71805, 1.73425]}},
      "y2": {"field": "h"}}},
    {"data": {"name": "eurnzd"}, "mark": {"type": "bar", "size": 2.2, "stroke": "#4a4a4a", "strokeWidth": 0.4},
     "encoding": {"x": {"field": "i", "type": "quantitative", "title": null}, "y": {"field": "o", "type": "quantitative", "title": null}, "y2": {"field": "c"},
      "color": {"condition": {"test": "datum.c >= datum.o", "value": "#8dc63f"}, "value": "#d8832c"}}},
    {"data": {"name": "arrows"}, "transform": [{"filter": "datum.p == 'EURNZD'"}], "mark": {"type": "rule", "color": "#1fb34a", "strokeWidth": 2},
     "encoding": {"x": {"field": "x1", "type": "quantitative", "title": null}, "y": {"field": "y1", "type": "quantitative", "title": null}, "x2": {"field": "x2"}, "y2": {"field": "y2"}}},
    {"data": {"name": "arrows"}, "transform": [{"filter": "datum.p == 'EURNZD'"}], "mark": {"type": "point", "shape": "triangle-right", "filled": true, "color": "#1fb34a", "opacity": 1, "size": 45, "angle": -64},
     "encoding": {"x": {"field": "x2", "type": "quantitative", "title": null}, "y": {"field": "y2", "type": "quantitative", "title": null}}}
   ]}
 ]}
]
}
